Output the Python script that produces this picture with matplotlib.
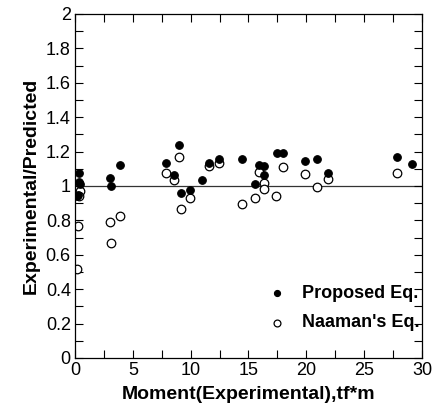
import matplotlib.pyplot as plt
from matplotlib.ticker import MultipleLocator, FuncFormatter

# Proposed Eq. (filled)
prop_x = [0.35, 0.35, 0.45, 0.2, 0.3, 3.0, 3.08, 3.9, 7.86, 8.58, 8.95, 9.16, 9.93,
          11.0, 11.58, 12.47, 14.43, 15.55, 15.9, 16.35, 16.33, 17.48, 17.97,
          19.93, 20.9, 21.9, 27.84, 29.14]
prop_y = [1.078, 1.026, 1.012, 0.94, 0.945, 1.045, 0.997, 1.123, 1.133, 1.065, 1.239, 0.962,
          0.974, 1.032, 1.136, 1.156, 1.156, 1.013, 1.123, 1.117, 1.065, 1.189,
          1.193, 1.148, 1.156, 1.075, 1.169, 1.129]

# Naaman's Eq. (open)
naa_x = [0.43, 0.35, 0.29, 0.14, 3.0, 3.08, 3.89, 7.86, 8.55, 8.95, 9.16, 9.93,
         11.58, 12.47, 14.4, 15.55, 15.9, 16.35, 16.33, 17.42, 17.97, 19.93,
         20.9, 21.9, 27.84]
naa_y = [0.972, 0.939, 0.765, 0.517, 0.788, 0.668, 0.827, 1.078, 1.036, 1.171,
         0.865, 0.933, 1.117, 1.136, 0.894, 0.933, 1.082, 1.016, 0.982, 0.939,
         1.113, 1.067, 0.993, 1.04, 1.078]

plt.rcParams['font.family'] = ['Liberation Sans', 'DejaVu Sans']

fig = plt.figure(figsize=(4.35, 4.11), dpi=100)
ax = fig.add_axes([0.1724, 0.129, 0.7976, 0.837])

ax.axhline(1.0, color='#333333', lw=0.9, zorder=1)
ax.scatter(prop_x, prop_y, s=30, c='black', edgecolors='black', lw=0.8,
           label='Proposed Eq.', zorder=3)
ax.scatter(naa_x, naa_y, s=38, facecolors='white', edgecolors='black', lw=0.9,
           label="Naaman's Eq.", zorder=2)

ax.set_xlim(0, 30)
ax.set_ylim(0, 2)
ax.xaxis.set_major_locator(MultipleLocator(5))
ax.xaxis.set_minor_locator(MultipleLocator(2.5))
ax.yaxis.set_major_locator(MultipleLocator(0.2))
ax.yaxis.set_minor_locator(MultipleLocator(0.1))
ax.yaxis.set_major_formatter(FuncFormatter(lambda v, p: f"{v:g}"))
ax.tick_params(which='both', direction='in', top=True, right=True, width=0.8)
ax.tick_params(which='major', length=6, labelsize=13, pad=3)
ax.tick_params(which='minor', length=6)
for s in ax.spines.values():
    s.set_linewidth(0.9)

ax.set_xlabel("Moment(Experimental),tf*m", fontsize=14, fontweight='bold', labelpad=5)
ax.set_ylabel("Experimental/Predicted", fontsize=14, fontweight='bold', labelpad=4)

ax.legend(loc='lower right', bbox_to_anchor=(1.04, 0.03), frameon=False,
          prop={'weight': 'bold', 'size': 13}, handletextpad=0.4,
          labelspacing=0.7, markerscale=0.8)

fig.savefig("out.png", dpi=100)
